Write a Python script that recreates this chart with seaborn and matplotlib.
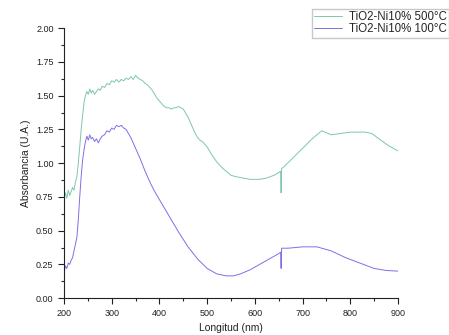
import pandas as pd
import matplotlib.pyplot as plt
import seaborn as sns
from matplotlib.ticker import MultipleLocator

# TiO2-Ni10% 500°C
wl_500 = [200, 203, 206, 209, 212, 215, 218, 221, 224, 227, 230, 233, 236, 239, 242, 245,
          248, 251, 254, 257, 260, 264, 268, 272, 276, 280, 285, 290, 295, 300, 305, 310,
          315, 320, 325, 330, 335, 340, 345, 350, 355, 360, 365, 370, 375, 380, 385, 390,
          395, 400, 405, 410, 415, 420, 425, 430, 435, 440, 445, 450, 455, 460, 465, 470,
          475, 480, 485, 490, 495, 500, 505, 510, 520, 530, 540, 550, 560, 575, 590, 610,
          625, 640, 650, 654, 655, 656, 660, 680, 700, 720, 740, 760, 780, 800, 830, 845,
          860, 880, 900]
abs_500 = [0.73, 0.78, 0.74, 0.80, 0.76, 0.79, 0.82, 0.80, 0.86, 0.90, 1.00, 1.12, 1.25, 1.35,
           1.45, 1.50, 1.53, 1.51, 1.55, 1.52, 1.54, 1.51, 1.53, 1.55, 1.54, 1.57, 1.56, 1.59,
           1.58, 1.61, 1.60, 1.62, 1.60, 1.62, 1.61, 1.63, 1.62, 1.64, 1.62, 1.65, 1.63, 1.62,
           1.61, 1.59, 1.58, 1.56, 1.54, 1.51, 1.48, 1.46, 1.44, 1.42, 1.41, 1.41, 1.40, 1.41,
           1.41, 1.42, 1.41, 1.40, 1.37, 1.34, 1.30, 1.26, 1.22, 1.19, 1.17, 1.16, 1.14, 1.12,
           1.09, 1.06, 1.01, 0.97, 0.94, 0.91, 0.90, 0.89, 0.88, 0.88, 0.89, 0.91, 0.93, 0.94,
           0.78, 0.96, 0.97, 1.04, 1.11, 1.18, 1.24, 1.21, 1.22, 1.23, 1.23, 1.22, 1.18, 1.13,
           1.09]

# TiO2-Ni10% 100°C
wl_100 = [200, 203, 206, 209, 212, 215, 218, 221, 224, 227, 230, 233, 236, 239, 242, 245,
          248, 251, 254, 257, 260, 264, 268, 272, 276, 280, 285, 290, 295, 300, 305, 310,
          315, 320, 325, 330, 335, 340, 345, 350, 355, 360, 370, 380, 390, 400, 420, 440,
          460, 480, 500, 520, 540, 555, 570, 590, 610, 630, 650, 654, 655, 656, 670, 700,
          730, 760, 790, 820, 850, 875, 900]
abs_100 = [0.18, 0.24, 0.22, 0.26, 0.25, 0.28, 0.30, 0.35, 0.40, 0.45, 0.58, 0.75, 0.90, 1.02,
           1.10, 1.16, 1.20, 1.17, 1.21, 1.18, 1.19, 1.16, 1.18, 1.15, 1.18, 1.20, 1.21, 1.24,
           1.23, 1.26, 1.25, 1.28, 1.27, 1.28, 1.26, 1.25, 1.22, 1.19, 1.15, 1.11, 1.07, 1.03,
           0.94, 0.86, 0.79, 0.73, 0.61, 0.49, 0.38, 0.29, 0.22, 0.18, 0.165, 0.165, 0.18, 0.21,
           0.25, 0.29, 0.33, 0.34, 0.22, 0.37, 0.37, 0.38, 0.38, 0.35, 0.30, 0.26, 0.22, 0.205,
           0.20]

labels = ["TiO2-Ni10% 500°C", "TiO2-Ni10% 100°C"]
colors = ["#7cc7ad", "#7d70e6"]

df = pd.concat([
    pd.DataFrame({"wl": wl_500, "abs": abs_500, "serie": labels[0]}),
    pd.DataFrame({"wl": wl_100, "abs": abs_100, "serie": labels[1]}),
])

sns.set_style("ticks")
plt.rcParams['font.family'] = ['Liberation Sans', 'DejaVu Sans']

fig = plt.figure(figsize=(4.49, 3.35), dpi=100)
ax = fig.add_axes([0.1425, 0.110, 0.744, 0.806])

sns.lineplot(ax=ax, data=df, x="wl", y="abs", hue="serie", palette=colors,
             sort=False, linewidth=0.7, legend=False)

ax.set_xlim(200, 900)
ax.set_ylim(0, 2.0)
ax.xaxis.set_major_locator(MultipleLocator(100))
ax.xaxis.set_minor_locator(MultipleLocator(50))
ax.yaxis.set_major_locator(MultipleLocator(0.25))
ax.yaxis.set_minor_locator(MultipleLocator(0.125))
ax.yaxis.set_major_formatter(plt.FormatStrFormatter('%.2f'))
ax.tick_params(which='major', length=4, width=0.8, labelsize=6.5, colors='#222222')
ax.tick_params(which='minor', length=2, width=0.8)
for s in ['top', 'right']:
    ax.spines[s].set_visible(False)
for s in ['left', 'bottom']:
    ax.spines[s].set_color('#222222')
    ax.spines[s].set_linewidth(0.8)

ax.set_xlabel('Longitud (nm)', fontsize=7.5, color='#222222')
ax.set_ylabel('Absorbancia (U.A.)', fontsize=7.5, color='#222222')

handles = [plt.Line2D([], [], color=c, lw=0.7) for c in colors]
fig.legend(handles, labels, loc='upper left', bbox_to_anchor=(0.682, 0.99),
           fontsize=8.3, frameon=True, fancybox=False, edgecolor='#bbbbbb',
           handlelength=2.4, borderpad=0.2, labelspacing=0.0, handletextpad=0.6)

plt.savefig('out.png', dpi=100)
